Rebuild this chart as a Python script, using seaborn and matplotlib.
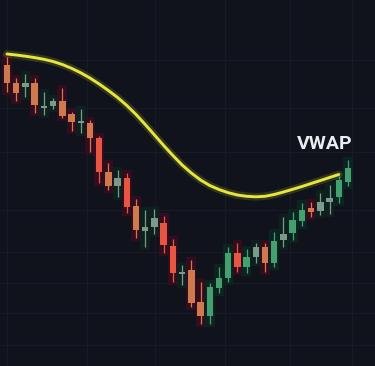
import numpy as np
import pandas as pd
import matplotlib
matplotlib.use("Agg")
import matplotlib.pyplot as plt
import seaborn as sns

# ---- data (price units) ----
highs  = [309, 288, 292, 288, 274, 268, 278, 254, 257, 246, 230, 203, 196, 193, 167, 156, 157, 150, 127, 101,
          106, 84, 83, 99, 119, 123, 117, 123, 123, 134, 149, 154, 163, 164, 173, 181, 190, 206]
opens  = [301, 283, 279, 283, 260, 260, 265, 252, 245, 243, 228, 194, 180, 188, 160, 139, 139, 143, 120, 94,
          96, 64, 50, 78, 88, 113, 99, 109, 119, 103, 126, 133, 145, 158, 155, 164, 169, 184]
closes = [283, 273, 283, 261, 258, 265, 250, 244, 243, 228, 194, 180, 188, 159, 136, 135, 148, 121, 93, 92,
          63, 50, 79, 88, 113, 99, 109, 119, 103, 125, 132, 146, 156, 154, 164, 168, 186, 198]
lows   = [274, 265, 269, 253, 251, 257, 248, 235, 233, 214, 183, 176, 169, 153, 128, 119, 132, 113, 84, 81,
          59, 42, 42, 73, 84, 94, 93, 103, 94, 99, 119, 126, 140, 149, 151, 152, 163, 180]
kinds  = ["orange", "orange", "gray", "orange", "gray", "gray", "orange", "orange", "gray", "orange",
          "red", "orange", "gray", "red", "orange", "gray", "gray", "red", "red", "gray",
          "orange", "orange", "green", "green", "green", "red", "green", "gray", "orange", "green",
          "gray", "green", "green", "orange", "gray", "gray", "green", "green"]
vwap   = [312, 311, 309.8, 308.4, 306.7, 304.5, 301.5, 297.7, 293.2, 288, 282, 275.5, 268.5, 260.5, 251.5,
          241.5, 231, 220.5, 210.5, 201, 193, 186, 180.5, 176.5, 173.3, 171, 169.7, 169.2, 169.7, 171.5,
          174, 176.7, 179.5, 182.5, 185.5, 188.5, 191.5]
label_text = "VWAP"

colors = {"orange": "#cf7a4e", "red": "#e65642", "green": "#45a070", "gray": "#7c9a89"}
shadow = {"orange": "#3c0b1e", "red": "#3c0b1e", "green": "#0b2922", "gray": "#0d2420"}

df = pd.DataFrame({"i": np.arange(len(opens)), "open": opens, "close": closes,
                   "high": highs, "low": lows, "kind": kinds})
vw = pd.DataFrame({"i": np.arange(len(vwap)), "vwap": vwap})

sns.set_theme(style="dark", rc={"axes.facecolor": "#10131b", "figure.facecolor": "#10131b"})

fig = plt.figure(figsize=(3.75, 3.66), dpi=100)
ax = fig.add_axes([0, 0, 1, 1])
ax.set_facecolor("#10131b")

# faint grid
for gx in [-0.02, 8.7, 16.1, 23.7, 30.7, 37.4]:
    ax.axvline(gx, color="#171b25", lw=0.8, zorder=0)
for gy in [306, 258, 214, 156, 114, 83, 53, 21]:
    ax.axhline(gy, color="#171b25", lw=0.8, zorder=0)

# shadow boxes behind candles
for _, r in df.iterrows():
    ax.bar(r.i, (r.high - r.low) + 6, bottom=r.low - 3, width=1.05,
           color=shadow[r.kind], alpha=0.8, zorder=1, linewidth=0)

# wicks
ax.vlines(df["i"], df["low"], df["high"], colors=[colors[k] for k in df["kind"]],
          linewidth=0.9, zorder=2)
# bodies
body_bottom = np.minimum(df["open"], df["close"])
body_h = np.maximum(np.abs(df["close"] - df["open"]), 1.5)
ax.bar(df["i"], body_h, bottom=body_bottom, width=0.7,
       color=[colors[k] for k in df["kind"]], linewidth=0, zorder=3)

# VWAP line with a soft glow
sns.lineplot(data=vw, x="i", y="vwap", ax=ax, color="#e3e43a", linewidth=5.5, alpha=0.16, zorder=4,
             solid_joinstyle="round", solid_capstyle="round")
sns.lineplot(data=vw, x="i", y="vwap", ax=ax, color="#e6e63c", linewidth=2.1, zorder=5,
             solid_joinstyle="round", solid_capstyle="round")

ax.text(34.5, 222, label_text, color="#e9edf2", fontsize=14, fontweight="bold",
        family=["Roboto", "DejaVu Sans"], ha="center", va="center", zorder=6)

ax.set_xlim(-0.76, 39.93)
ax.set_ylim(0, 366)
ax.set_xlabel("")
ax.set_ylabel("")
ax.set_xticks([])
ax.set_yticks([])
for s in ax.spines.values():
    s.set_visible(False)

fig.savefig("out.png", dpi=100, facecolor="#10131b")
